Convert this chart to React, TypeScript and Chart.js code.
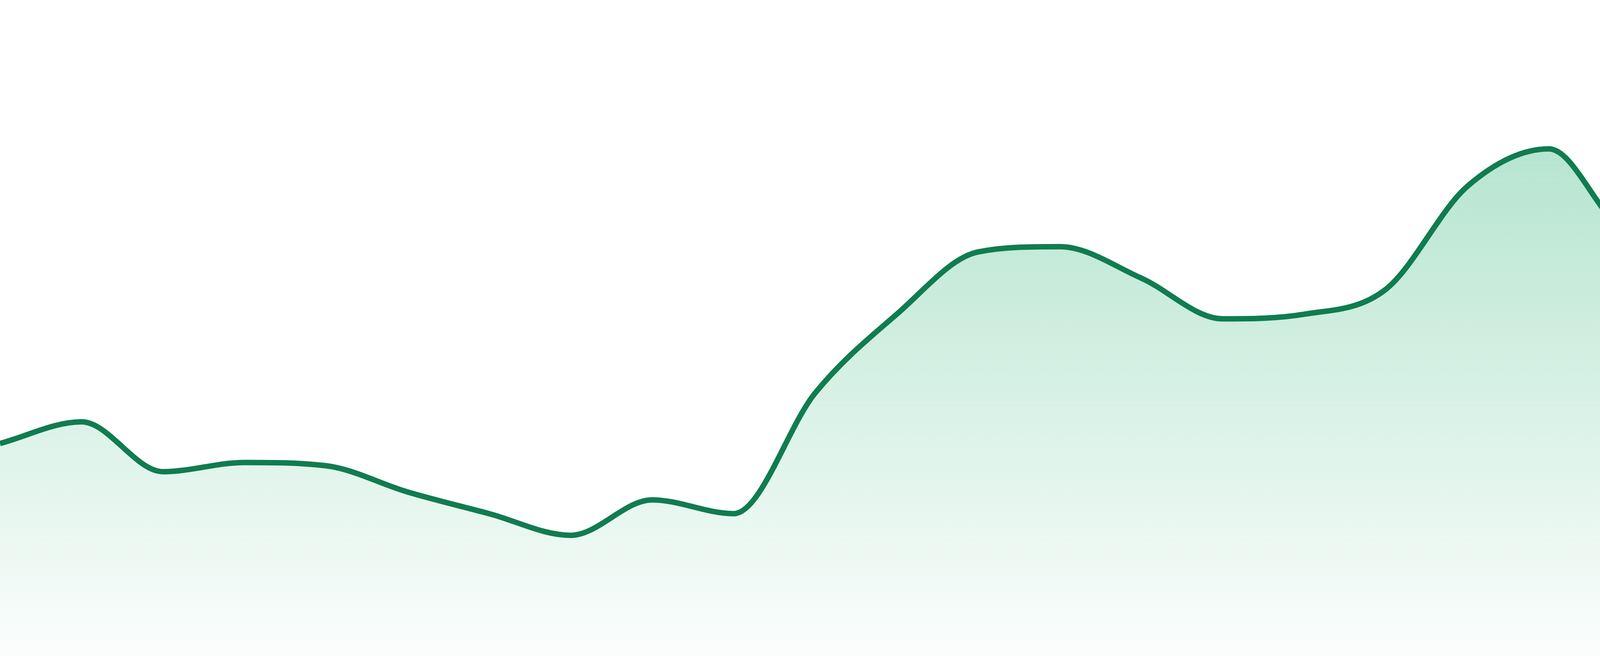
import React, { useEffect, useRef } from "react";
import { Chart, registerables } from "chart.js";

Chart.register(...registerables);

// 24 evenly spaced samples, first and last sit on the canvas edges
const labels = [
  "1", "2", "3", "4", "5", "6", "7", "8", "9", "10", "11", "12",
  "13", "14", "15", "16", "17", "18", "19", "20", "21", "22", "23", "24",
];

const values = [
  32.4, 35.7, 28.1, 29.5, 29.0, 25.0, 21.7, 18.4, 23.8, 21.7, 40.1, 52.1,
  61.6, 62.4, 57.6, 51.4, 52.1, 55.9, 71.6, 77.3, 64.9, 70.8, 87.9, 75.9,
];

const yMin = 0;
const yMax = 100;

const lineColor = "#107c50";

export default function App() {
  const chartRef = useRef<HTMLCanvasElement | null>(null);

  useEffect(() => {
    document.body.style.margin = "0";
    if (!chartRef.current) return;

    const config: any = {
      type: "line",
      data: {
        labels: labels,
        datasets: [
          {
            data: values,
            borderColor: lineColor,
            borderWidth: 14,
            cubicInterpolationMode: "monotone",
            pointRadius: 0,
            fill: "start",
            backgroundColor: (ctx: any) => {
              const area = ctx.chart.chartArea;
              if (!area) return "rgba(52,182,124,0.3)";
              const g = ctx.chart.ctx.createLinearGradient(0, area.top, 0, area.bottom);
              g.addColorStop(0, "rgba(52,182,124,0.46)");
              g.addColorStop(1, "rgba(52,182,124,0.02)");
              return g;
            },
          },
        ],
      },
      options: {
        animation: false,
        responsive: false,
        maintainAspectRatio: false,
        devicePixelRatio: 1,
        layout: { padding: 0 },
        plugins: {
          legend: { display: false },
          tooltip: { enabled: false },
        },
        scales: {
          x: { display: false, offset: false },
          y: { display: false, min: yMin, max: yMax },
        },
      },
    };

    const chartInstance = new Chart(chartRef.current, config);

    return () => chartInstance.destroy();
  }, []);

  return (
    <div style={{ width: 4800, height: 1680, background: "#ffffff" }}>
      <canvas ref={chartRef} width={4800} height={1680}></canvas>
    </div>
  );
}
